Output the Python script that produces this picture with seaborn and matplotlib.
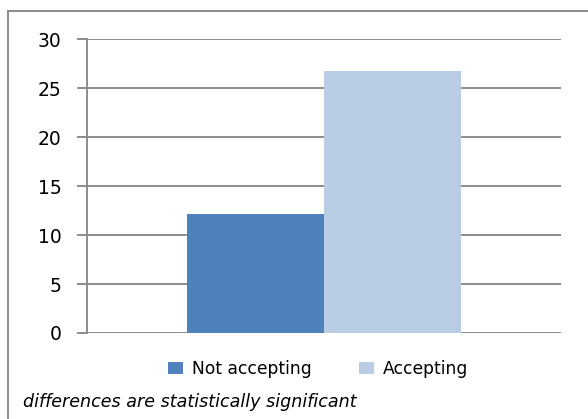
import matplotlib
matplotlib.use("Agg")
import matplotlib.pyplot as plt
import seaborn as sns
import pandas as pd
from matplotlib.patches import Rectangle, Patch

categories = ["Group"]
series = ["Not accepting", "Accepting"]
values = [12.1, 26.7]
yticks = [0, 5, 10, 15, 20, 25, 30]
colors = ["#4f81bd", "#b9cde5"]
note = "differences are statistically significant"

df = pd.DataFrame({"cat": categories * len(series), "series": series, "value": values})

sns.set_theme(style="white")
plt.rcParams["font.family"] = ["DejaVu Sans"]
plt.rcParams["text.color"] = "black"
plt.rcParams["ytick.labelcolor"] = "black"

W, H = 588, 419
fig = plt.figure(figsize=(W / 100, H / 100), dpi=100)
ax = fig.add_axes([87 / W, 1 - 333 / H, (561 - 87) / W, (333 - 39) / H])

sns.barplot(data=df, x="cat", y="value", hue="series", palette=colors,
            width=0.576, gap=0, ax=ax, legend=False, saturation=1, zorder=3)
for p in ax.patches:
    p.set_edgecolor("none")

ax.set_xlim(-0.5, 0.5)
ax.set_ylim(0, 30)
ax.set_yticks(yticks)
ax.set_yticklabels([str(t) for t in yticks], fontsize=13.5, color="black")
ax.set_xticks([])
ax.set_xlabel("")
ax.set_ylabel("")
for t in yticks:
    ax.axhline(t, color="#8c8c8c", lw=1.4, zorder=1)
for s in ["top", "right", "bottom"]:
    ax.spines[s].set_visible(False)
ax.spines["left"].set_color("#8c8c8c")
ax.spines["left"].set_linewidth(1.4)
ax.tick_params(axis="y", length=7.5, color="#8c8c8c", width=1.4, pad=11, left=True)

handles = [Patch(facecolor=c, edgecolor="none") for c in colors]
fig.legend(handles, series, loc="center", bbox_to_anchor=(318 / W, 1 - 369 / H),
           ncol=2, frameon=False, fontsize=12.3, handlelength=0.9, handleheight=0.7,
           columnspacing=2.8, handletextpad=0.5, labelcolor="black")

fig.text(23 / W, 1 - 402 / H, note, fontsize=12.6, style="italic", va="center",
         ha="left", color="black")

border = Rectangle((8 / W, -0.05), 1.1, 1 - 11 / H + 0.05, transform=fig.transFigure,
                   fill=False, edgecolor="#8c8c8c", lw=1.4, clip_on=False)
fig.add_artist(border)

fig.savefig("out.png", dpi=100)
